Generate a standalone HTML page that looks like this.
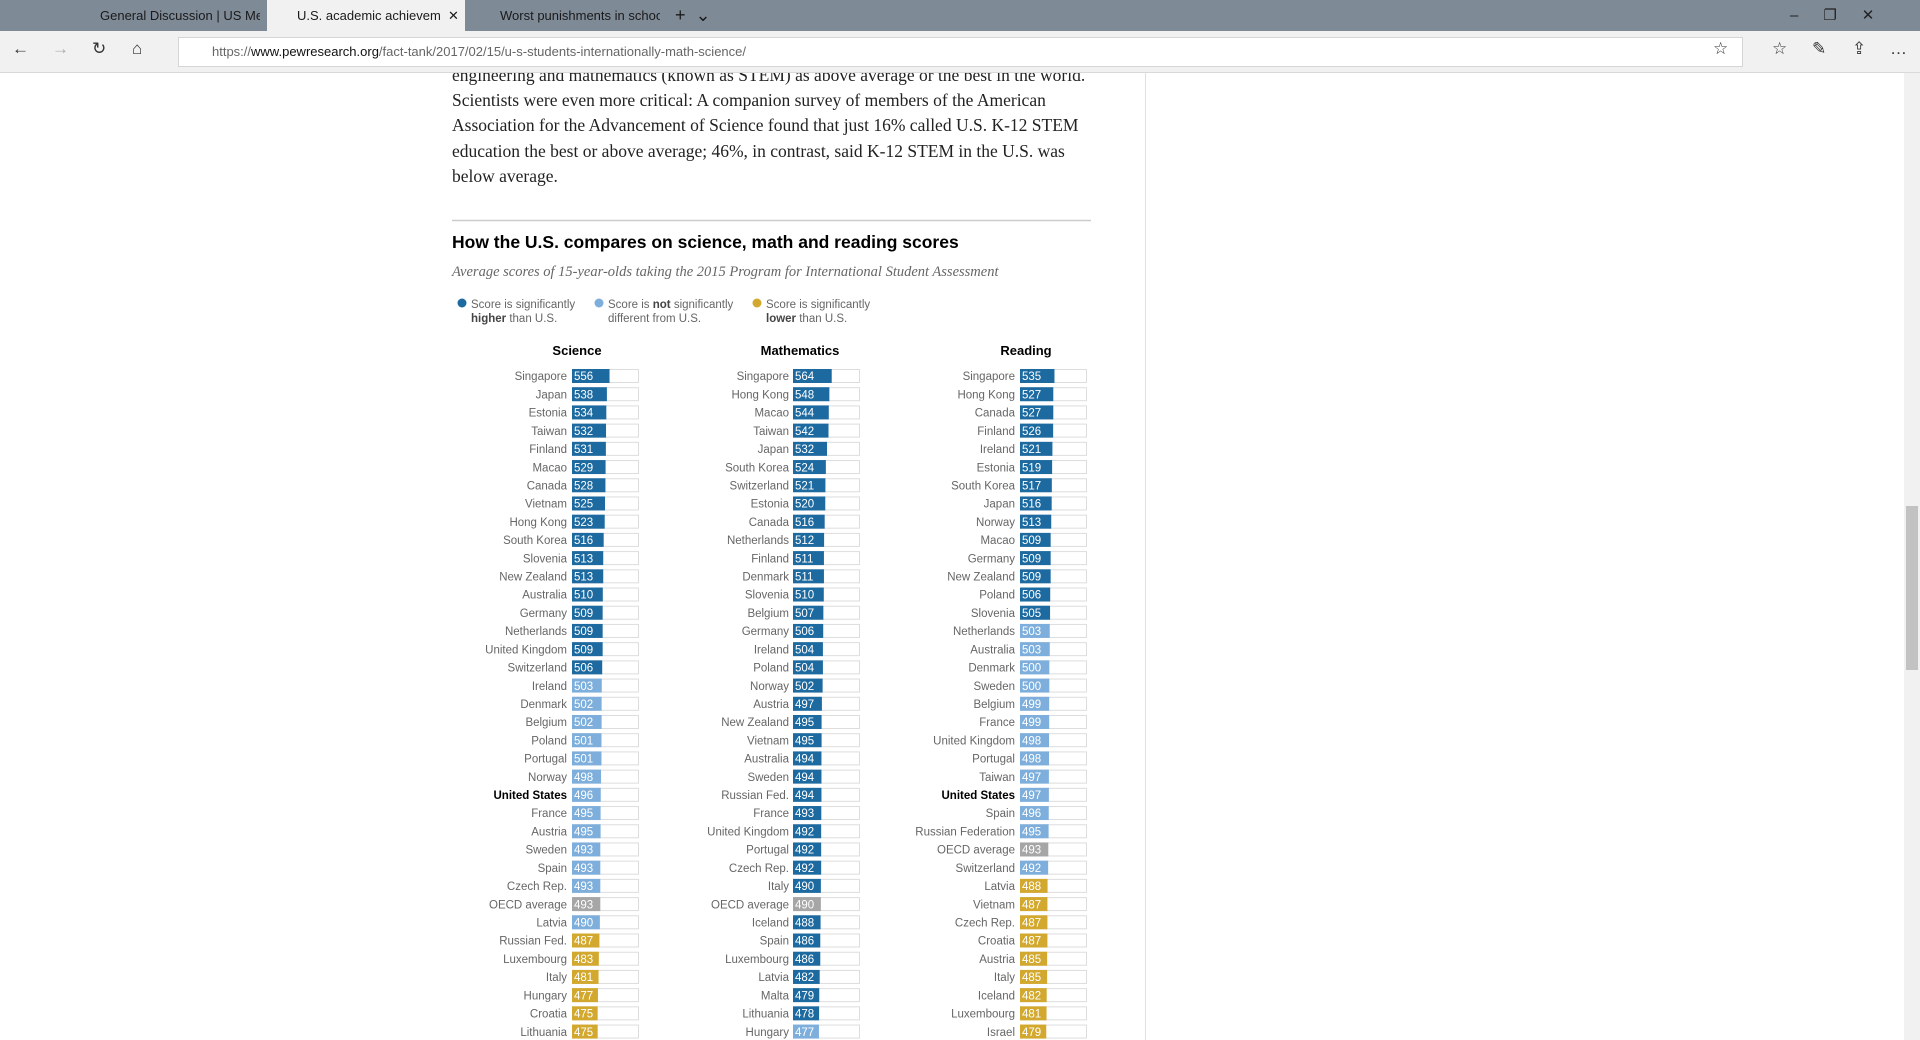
<!DOCTYPE html>
<html><head><meta charset="utf-8">
<style>
*{margin:0;padding:0;box-sizing:border-box}
body{width:1920px;height:1040px;overflow:hidden;background:#fff;font-family:"Liberation Sans",sans-serif;position:relative}
#tabbar{position:absolute;left:0;top:0;width:1920px;height:31px;background:#7f8a97;z-index:2}
.tab{position:absolute;top:0;height:31px;font-size:13px;color:#1a1a1a;line-height:31px;padding-left:30px;white-space:nowrap;overflow:hidden}
#addr-row{position:absolute;left:0;top:31px;width:1920px;height:42px;background:#f1f1f1;border-bottom:1px solid #d9d9d9;z-index:2}
#addr{position:absolute;left:178px;top:6px;width:1565px;height:30px;background:#fff;border:1px solid #d5d5d5;font-size:13px;line-height:28px;padding-left:33px;color:#666}
#addr b{font-weight:normal;color:#111}
.ico{position:absolute;font-size:17px;color:#333;top:39px;z-index:3}
#para{position:absolute;left:452px;top:63px;width:700px;font-family:"Liberation Serif",serif;font-size:17.5px;line-height:25.2px;color:#222;white-space:nowrap}
#vline{position:absolute;left:1145px;top:73px;width:1px;height:967px;background:#e0e0e0}
#scroll{position:absolute;left:1904px;top:73px;width:16px;height:967px;background:#f1f1f1}
#thumb{position:absolute;left:1906px;top:506px;width:12px;height:164px;background:#c2c2c2}
</style></head><body>
<div id="tabbar">
 <div class="tab" style="left:70px;width:190px">General Discussion | US Me:</div>
 <div class="tab" style="left:267px;width:198px;background:#f1f1f1">U.S. academic achievem &nbsp;✕</div>
 <div class="tab" style="left:470px;width:190px">Worst punishments in schoo</div>
 <div class="tab" style="left:665px;width:60px;padding-left:10px;font-size:18px">+ &nbsp;⌄</div>
 <div class="tab" style="left:1790px;width:130px;padding-left:0;font-size:15px;color:#222">–&nbsp;&nbsp;&nbsp;&nbsp;&nbsp;&nbsp;❐&nbsp;&nbsp;&nbsp;&nbsp;&nbsp;&nbsp;✕</div>
</div>
<div id="addr-row">
 <div id="addr">https://<b>www.pewresearch.org</b>/fact-tank/2017/02/15/u-s-students-internationally-math-science/</div>
</div>
<div class="ico" style="left:12px">←</div>
<div class="ico" style="left:52px;color:#aaa">→</div>
<div class="ico" style="left:92px">↻</div>
<div class="ico" style="left:132px">⌂</div>
<div class="ico" style="left:1713px">☆</div>
<div class="ico" style="left:1772px">☆</div>
<div class="ico" style="left:1812px">✎</div>
<div class="ico" style="left:1852px">⇪</div>
<div class="ico" style="left:1890px">…</div>

<div id="para">engineering and mathematics (known as STEM) as above average or the best in the world.<br>Scientists were even more critical: A companion survey of members of the American<br>Association for the Advancement of Science found that just 16% called U.S. K-12 STEM<br>education the best or above average; 46%, in contrast, said K-12 STEM in the U.S. was<br>below average.</div>
<div id="vline"></div>
<div id="scroll"></div>
<div id="thumb"></div>

<svg id="chart" width="1920" height="1040" style="position:absolute;left:0;top:0"></svg>
<script>
const sciCountries=["Singapore","Japan","Estonia","Taiwan","Finland","Macao","Canada","Vietnam","Hong Kong","South Korea","Slovenia","New Zealand","Australia","Germany","Netherlands","United Kingdom","Switzerland","Ireland","Denmark","Belgium","Poland","Portugal","Norway","United States","France","Austria","Sweden","Spain","Czech Rep.","OECD average","Latvia","Russian Fed.","Luxembourg","Italy","Hungary","Croatia","Lithuania"];
const sciScores=[556,538,534,532,531,529,528,525,523,516,513,513,510,509,509,509,506,503,502,502,501,501,498,496,495,495,493,493,493,493,490,487,483,481,477,475,475];
const sciStatus="HHHHHHHHHHHHHHHHHNNNNNNNNNNNNONLLLLLL";
const mathCountries=["Singapore","Hong Kong","Macao","Taiwan","Japan","South Korea","Switzerland","Estonia","Canada","Netherlands","Finland","Denmark","Slovenia","Belgium","Germany","Ireland","Poland","Norway","Austria","New Zealand","Vietnam","Australia","Sweden","Russian Fed.","France","United Kingdom","Portugal","Czech Rep.","Italy","OECD average","Iceland","Spain","Luxembourg","Latvia","Malta","Lithuania","Hungary"];
const mathScores=[564,548,544,542,532,524,521,520,516,512,511,511,510,507,506,504,504,502,497,495,495,494,494,494,493,492,492,492,490,490,488,486,486,482,479,478,477];
const mathStatus="HHHHHHHHHHHHHHHHHHHHHHHHHHHHHOHHHHHHN";
const readCountries=["Singapore","Hong Kong","Canada","Finland","Ireland","Estonia","South Korea","Japan","Norway","Macao","Germany","New Zealand","Poland","Slovenia","Netherlands","Australia","Denmark","Sweden","Belgium","France","United Kingdom","Portugal","Taiwan","United States","Spain","Russian Federation","OECD average","Switzerland","Latvia","Vietnam","Czech Rep.","Croatia","Austria","Italy","Iceland","Luxembourg","Israel"];
const readScores=[535,527,527,526,521,519,517,516,513,509,509,509,506,505,503,503,500,500,499,499,498,498,497,497,496,495,493,492,488,487,487,487,485,485,482,481,479];
const readStatus="HHHHHHHHHHHHHHNNNNNNNNNNNNONLLLLLLLLL";

const NS="http://www.w3.org/2000/svg";
const svg=document.getElementById('chart');
const colors={H:"#1d6aa0",N:"#7eafdc",L:"#d3a82f",O:"#a6a6a6"};
function mk(tag,attrs,parent){const e=document.createElementNS(NS,tag);for(const k in attrs)e.setAttribute(k,attrs[k]);(parent||svg).appendChild(e);return e;}
const DMIN=300,DMAX=750,TRACKW=66;
function xw(v){return (v-DMIN)/(DMAX-DMIN)*TRACKW;}
function yRow(i){return 376+i*18.21;}

const rule=mk('line',{x1:452,x2:1091,y1:220.5,y2:220.5,stroke:'#ccc','stroke-width':1.5});


const title=mk('text',{x:452,y:248,'font-size':17.5,'font-weight':'bold',fill:'#000','font-family':'Liberation Sans, sans-serif'});
title.textContent="How the U.S. compares on science, math and reading scores";


const sub=mk('text',{x:452,y:276,'font-size':14.5,'font-style':'italic',fill:'#666','font-family':'Liberation Serif, serif'});
sub.textContent="Average scores of 15-year-olds taking the 2015 Program for International Student Assessment";



const legend=[[462,"H","higher"],[599,"N","not"],[757,"L","lower"]];
legend.forEach((l,i)=>{
  const g=mk('g',{});
  
  
  mk('circle',{cx:l[0],cy:303,r:4.5,fill:colors[l[1]]},g);
  const t1=mk('text',{x:l[0]+9,y:308,'font-size':11.5,fill:'#666'},g);
  const t2=mk('text',{x:l[0]+9,y:322,'font-size':11.5,fill:'#666'},g);
  if(i===1){t1.innerHTML='Score is <tspan font-weight="bold" fill="#444">not</tspan> significantly';t2.textContent='different from U.S.';}
  else{t1.textContent='Score is significantly';t2.innerHTML='<tspan font-weight="bold" fill="#444">'+l[2]+'</tspan> than U.S.';}
});

function panel(name,cx,labelR,barX,countries,scores,status){
  const h=mk('text',{x:cx,y:355,'font-size':13,'font-weight':'bold','text-anchor':'middle',fill:'#000'});
  h.textContent=name;
  
  
  countries.forEach((c,i)=>{
    const y=yRow(i);
    const us=c==="United States";
    const lab=mk('text',{x:labelR,y:y+4.2,'font-size':11.5,'text-anchor':'end',fill:us?'#000':'#666','font-weight':us?'bold':'normal'});
    lab.textContent=c;
    
    
    const tr=mk('rect',{x:barX+0.5,y:y-6.5,width:TRACKW,height:13,fill:'#fff',stroke:'#ddd','stroke-width':1});
    
    
    const b=mk('rect',{x:barX,y:y-7,width:xw(scores[i]),height:14,fill:colors[status[i]]});
    
    
    const v=mk('text',{x:barX+2,y:y+4.2,'font-size':11.5,fill:'#fff'});
    v.textContent=scores[i];
    
    
  });
}
panel("Science",577,567,572,sciCountries,sciScores,sciStatus);
panel("Mathematics",800,789,793,mathCountries,mathScores,mathStatus);
panel("Reading",1026,1015,1020,readCountries,readScores,readStatus);
</script>
</body></html>
